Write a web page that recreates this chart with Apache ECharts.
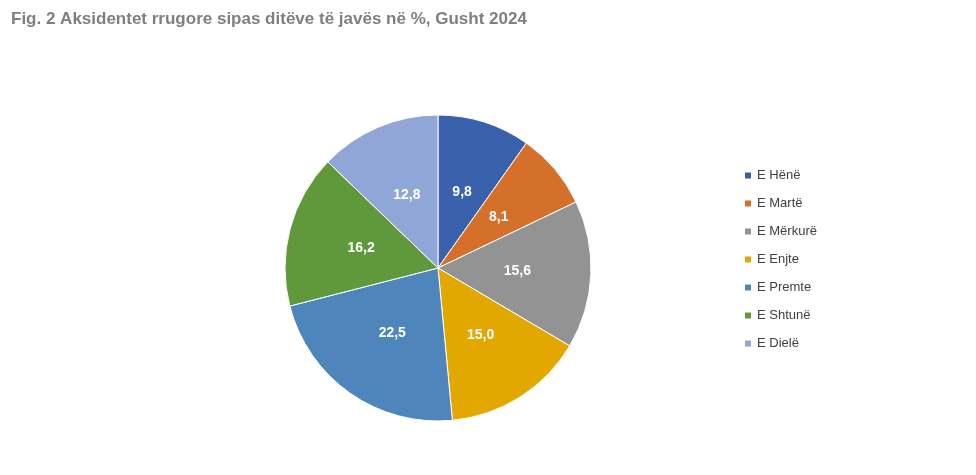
<!DOCTYPE html>
<html lang="sq">
<head>
<meta charset="UTF-8">
<title>Aksidentet rrugore</title>
<script src="https://cdn.jsdelivr.net/npm/echarts@6/dist/echarts.min.js"></script>
<style>body{margin:0;background:#fff}</style>
</head>
<body>
<div id="main" style="width:976px;height:475px;"></div>
<script>
var days = ['E Hënë', 'E Martë', 'E Mërkurë', 'E Enjte', 'E Premte', 'E Shtunë', 'E Dielë'];
var shares = [9.8, 8.1, 15.6, 15.0, 22.5, 16.2, 12.8];
var colors = ['#3A62AC', '#D4702A', '#939393', '#E2A800', '#4E86BC', '#5F993C', '#8FA6D6'];

var chart = echarts.init(document.getElementById('main'));
chart.setOption({
    title: {
        text: 'Fig. 2 Aksidentet rrugore sipas ditëve të javës në %, Gusht 2024',
        left: 6, top: 6,
        textStyle: {fontFamily: 'Liberation Sans', fontSize: 17, fontWeight: 'bold', color: '#7f7f7f'}
    },
    color: colors,
    legend: {
        orient: 'vertical', left: 738, top: 164, itemGap: 15,
        itemWidth: 8, itemHeight: 8, icon: 'rect',
        textStyle: {fontFamily: 'Liberation Sans', fontSize: 13, color: '#404040'},
        data: days
    },
    series: [{
        type: 'pie', radius: 153, center: [438, 268],
        startAngle: 90, clockwise: true,
        itemStyle: {borderColor: '#fff', borderWidth: 1},
        label: {
            position: 'inside', color: '#fff', fontFamily: 'Liberation Sans',
            fontSize: 14, fontWeight: 'bold',
            formatter: function (p) { return p.value.toFixed(1).replace('.', ','); }
        },
        labelLine: {show: false},
        data: days.map(function (d, i) { return {name: d, value: shares[i]}; })
    }]
});
</script>
</body>
</html>
